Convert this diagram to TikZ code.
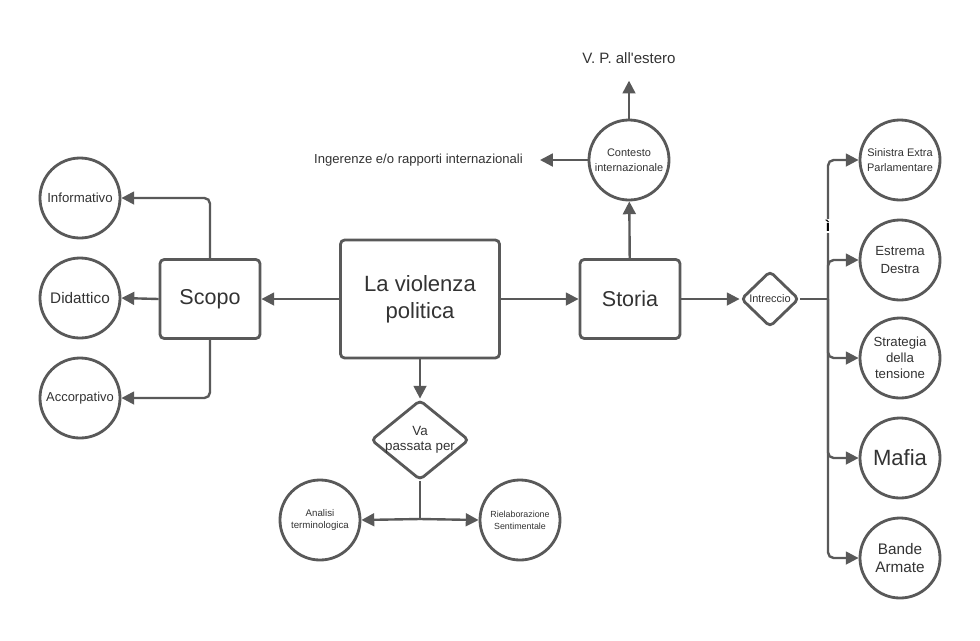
\documentclass[tikz,border=0pt]{standalone}
\usepackage{fontspec}
\setmainfont{Liberation Sans}
\usepackage{tikz}
\usetikzlibrary{
  arrows.meta,
  positioning,
  shapes.geometric
}
\definecolor{ink}{HTML}{333333}
\definecolor{edge}{HTML}{595959}
\tikzset{
  link/.style={
    -{Triangle[length=3.2mm,width=3.2mm]},
    line width=1.7pt,
    draw=edge,
    rounded corners=4pt
  },
  plain/.style={
    line width=1.7pt,
    draw=edge,
    rounded corners=4pt
  },
  mainbox/.style={
    draw=edge,
    fill=white,
    line width=2pt,
    rounded corners=3pt,
    text=ink,
    align=center
  },
  topic/.style={
    circle,
    draw=edge,
    fill=white,
    line width=2pt,
    minimum size=2cm,
    inner sep=0pt,
    text=ink,
    align=center
  },
  choice/.style={
    diamond,
    draw=edge,
    fill=white,
    line width=2pt,
    rounded corners=3pt,
    inner sep=0pt,
    label distance=0pt
  },
  choicetext/.style={
    text=ink,
    align=center,
    inner sep=0pt
  },
  freetext/.style={
    text=ink,
    inner sep=1pt
  }
}

\begin{document}
\begin{tikzpicture}[x=0.025cm,y=-0.025cm]
  \useasboundingbox (0,0) rectangle (980,640);

  % central boxes
  \node[mainbox,minimum width=3.975cm,minimum height=2.95cm,
    font=\fontsize{15.7}{19.3}\selectfont] (violenza) at (420,299)
    {La violenza\\politica};
  \node[mainbox,minimum width=2.5cm,minimum height=1.975cm,
    font=\fontsize{15.3}{18}\selectfont] (scopo) at (210,299) {Scopo};
  \node[mainbox,minimum width=2.5cm,minimum height=1.975cm,
    font=\fontsize{15.3}{18}\selectfont] (storia) at (630,299) {Storia};

  % scopo
  \node[topic,font=\fontsize{9.4}{11}\selectfont] (informativo) at (80,198) {Informativo};
  \node[topic,font=\fontsize{10.9}{12}\selectfont] (didattico) at (80,298) {Didattico};
  \node[topic,font=\fontsize{9.2}{11}\selectfont] (accorpativo) at (80,398) {Accorpativo};

  % storia
  \node[topic,font=\fontsize{7.8}{10.5}\selectfont] (contesto) at (629,160)
    {Contesto\\internazionale};
  \node[freetext,inner ysep=12pt,font=\fontsize{10.7}{12}\selectfont] (estero) at (629,58)
    {V. P. all\textquotesingle estero};
  \node[freetext,inner xsep=12pt,font=\fontsize{9.3}{11}\selectfont,anchor=east] (ingerenze)
    at (540,160) {Ingerenze e/o rapporti internazionali};
  \node[choice,minimum width=1.45cm,minimum height=1.4cm,
    label={[choicetext,font=\fontsize{7.8}{9}\selectfont]center:Intreccio}]
    (intreccio) at (770,299) {};

  \node[topic,font=\fontsize{7.8}{10.5}\selectfont] (sinistra) at (900,160)
    {Sinistra Extra\\Parlamentare};
  \node[topic,font=\fontsize{9.4}{12.8}\selectfont] (estrema) at (900,260)
    {Estrema\\Destra};
  \node[topic,font=\fontsize{9.4}{11.3}\selectfont] (strategia) at (900,358)
    {Strategia\\della\\tensione};
  \node[topic,font=\fontsize{15.7}{17}\selectfont] (mafia) at (900,458) {Mafia};
  \node[topic,font=\fontsize{10.9}{13}\selectfont] (bande) at (900,558)
    {Bande\\Armate};

  % va passata per
  \node[choice,minimum width=2.45cm,minimum height=2cm,
    label={[choicetext,font=\fontsize{9.5}{11}\selectfont]center:Va\\passata per}]
    (passata) at (420,440) {};
  \node[topic,font=\fontsize{6.9}{8.7}\selectfont] (analisi) at (320,520)
    {Analisi\\terminologica};
  \node[topic,font=\fontsize{6.3}{8.3}\selectfont] (rielaborazione) at (520,520)
    {Rielaborazione\\Sentimentale};

  \coordinate (trunk) at (828,299);
  \coordinate (fork) at (420,519);

  \draw[link] (violenza) -- (scopo);
  \draw[link] (violenza) -- (storia);
  \draw[link] (violenza) -- (passata);

  \draw[link] (scopo.west) -- (didattico.east);
  \draw[link] (scopo.north) |- (informativo.east);
  \draw[link] (scopo.south) |- (accorpativo.east);

  \draw[link] (storia) -- (contesto);
  \draw[link] (contesto.north) -- (estero.south);
  \draw[link] (contesto.west) -- (ingerenze.east);
  \draw[link] (storia.east) -- (intreccio.west);

  \draw[plain] (intreccio.east) -- (trunk);
  \foreach \t in {sinistra,estrema,strategia,mafia,bande}{
    \draw[link] (trunk) |- (\t.west);
  }
  \node[fill=white,text=black,inner sep=0.6pt,font=\fontsize{11}{12}\bfseries]
    (segno) at (828,226) {ì};

  \draw[plain] (passata.south) -- (fork);
  \draw[link] (fork) -- (analisi.east);
  \draw[link] (fork) -- (rielaborazione.west);
\end{tikzpicture}
\end{document}
